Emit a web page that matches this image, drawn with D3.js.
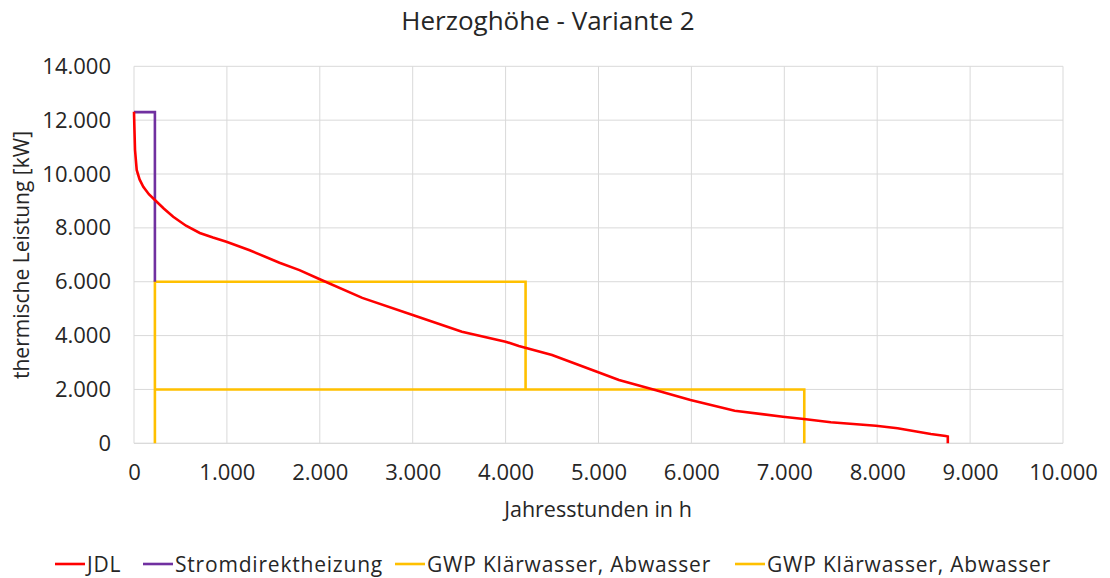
<!DOCTYPE html>
<html>
<head>
<meta charset="utf-8">
<script src="https://cdn.jsdelivr.net/npm/d3@7"></script>
<style>
  body { margin: 0; background: #fff; }
  text { font-family: "Open Sans", "Noto Sans", sans-serif; fill: #262626; }
</style>
</head>
<body>
<svg id="chart" width="1110" height="578"></svg>
<script>
// Jahresdauerlinie (JDL): Stunden und thermische Leistung
const jdlHours = [0, 5, 11, 29, 60, 100, 160, 225, 320, 422, 560, 708, 850, 995, 1245, 1566, 1781, 2000, 2457, 3000, 3530, 4000, 4142, 4500, 4983, 5220, 5610, 5990, 6466, 6985, 7210, 7500, 7986, 8219, 8577, 8737, 8760, 8760];
const jdlKW    = [12313, 11630, 10890, 10150, 9800, 9528, 9250, 9036, 8720, 8414, 8080, 7810, 7640, 7486, 7170, 6706, 6430, 6090, 5400, 4764, 4145, 3773, 3613, 3279, 2660, 2350, 1980, 1608, 1210, 988, 902, 780, 654, 557, 345, 271, 250, 0];

// Stromdirektheizung
const stromHours = [0, 225, 225];
const stromKW    = [12300, 12300, 6000];

// GWP Klärwasser, Abwasser (Stufe 1 und 2)
const gwp1Hours = [225, 225, 4215, 4215];
const gwp1KW    = [0, 6000, 6000, 2000];
const gwp2Hours = [225, 7215, 7215];
const gwp2KW    = [2000, 2000, 0];

const xTicks = [0, 1000, 2000, 3000, 4000, 5000, 6000, 7000, 8000, 9000, 10000];
const yTicks = [0, 2000, 4000, 6000, 8000, 10000, 12000, 14000];

const legendNames = ["JDL", "Stromdirektheizung", "GWP Klärwasser, Abwasser", "GWP Klärwasser, Abwasser"];
const colors = ["#ff0000", "#7030a0", "#ffc000", "#ffc000"];

const svg = d3.select("#chart");
const x = d3.scaleLinear().domain([0, 10000]).range([134, 1063]);
const y = d3.scaleLinear().domain([0, 14000]).range([443.3, 66.3]);
const fmt = v => d3.format(",")(v).replace(/,/g, ".");

// Gitternetz
svg.append("g").selectAll("line").data(yTicks).join("line")
  .attr("x1", x(0)).attr("x2", x(10000))
  .attr("y1", d => y(d)).attr("y2", d => y(d))
  .attr("stroke", "#d9d9d9").attr("stroke-width", 1);
svg.append("g").selectAll("line").data(xTicks).join("line")
  .attr("x1", d => x(d)).attr("x2", d => x(d))
  .attr("y1", y(0)).attr("y2", y(14000))
  .attr("stroke", "#d9d9d9").attr("stroke-width", 1);

// Achsen
const xAxis = svg.append("g").attr("transform", `translate(0,${y(0)})`)
  .call(d3.axisBottom(x).tickValues(xTicks).tickFormat(fmt).tickSize(0).tickPadding(21));
const yAxis = svg.append("g").attr("transform", `translate(${x(0)},0)`)
  .call(d3.axisLeft(y).tickValues(yTicks).tickFormat(fmt).tickSize(0).tickPadding(23));
[xAxis, yAxis].forEach(a => {
  a.select(".domain").remove();
  a.selectAll("text").attr("font-family", "'Open Sans', sans-serif")
    .attr("font-size", 22).attr("fill", "#262626");
});
svg.append("line").attr("x1", x(0)).attr("x2", x(10000)).attr("y1", y(0)).attr("y2", y(0))
  .attr("stroke", "#d9d9d9");

// Linien
const line = d3.line().x(d => x(d[0])).y(d => y(d[1]));
const series = [
  [d3.zip(gwp2Hours, gwp2KW), colors[3]],
  [d3.zip(gwp1Hours, gwp1KW), colors[2]],
  [d3.zip(stromHours, stromKW), colors[1]],
  [d3.zip(jdlHours, jdlKW), colors[0]]
];
series.forEach(([pts, c]) => {
  svg.append("path").datum(pts).attr("d", line)
    .attr("fill", "none").attr("stroke", c).attr("stroke-width", 2.6)
    .attr("stroke-linejoin", "miter");
});

// Titel und Achsentitel
svg.append("text").attr("x", 548).attr("y", 30).attr("text-anchor", "middle")
  .attr("font-size", 26).text("Herzoghöhe  - Variante 2");
svg.append("text").attr("x", 598).attr("y", 517).attr("text-anchor", "middle")
  .attr("font-size", 21.5).text("Jahresstunden in h");
svg.append("text").attr("transform", "translate(29,255) rotate(-90)").attr("text-anchor", "middle")
  .attr("font-size", 21).text("thermische Leistung [kW]");

// Legende
const legendX = [55, 143, 395, 735];
const lg = svg.append("g");
legendNames.forEach((n, i) => {
  lg.append("line").attr("x1", legendX[i]).attr("x2", legendX[i] + 30)
    .attr("y1", 564).attr("y2", 564).attr("stroke", colors[i]).attr("stroke-width", 2.6);
  lg.append("text").attr("x", legendX[i] + 32).attr("y", 572)
    .attr("font-size", 21).attr("letter-spacing", 0.8)
    .text(n);
});
</script>
</body>
</html>
